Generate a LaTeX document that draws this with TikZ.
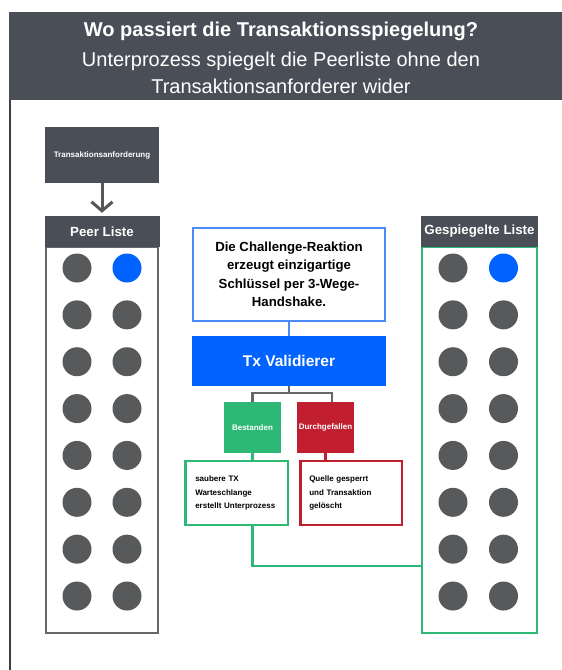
\documentclass[tikz,border=0pt]{standalone}
\usepackage{fontspec}
\setmainfont{Liberation Sans}
\usetikzlibrary{arrows.meta,positioning}
\definecolor{headgray}{HTML}{4A4E56}
\definecolor{dotgray}{HTML}{58595B}
\definecolor{linkgray}{HTML}{666666}
\definecolor{peerblue}{HTML}{0062FF}
\definecolor{edgeblue}{HTML}{4A8CF7}
\definecolor{passgreen}{HTML}{2DB875}
\definecolor{failred}{HTML}{C11F30}

\begin{document}
\begin{tikzpicture}[x=1pt,y=-1pt,
  small/.style={font=\bfseries\fontsize{8}{13.5}\selectfont},
  listhead/.style={fill=headgray,text=white,inner sep=0pt,minimum height=31pt,
    font=\bfseries\fontsize{13.3}{16}\selectfont},
  listbody/.style={draw,line width=2.5pt,fill=white,inner sep=0pt},
  dot/.style={circle,fill=dotgray,inner sep=0pt,minimum size=29pt},
  verdict/.style={small,text=white,inner sep=0pt,minimum width=57pt,minimum height=51pt},
  note/.style={small,draw,line width=2.5pt,fill=white,align=left,minimum height=64pt}]
  \useasboundingbox (0,0) rectangle (562,670);

  % Header band
  \fill[headgray] (9,12) rectangle (562,100);
  \draw[headgray!80!black,line width=2pt] (10,100) -- (10,670);
  \node[anchor=base,text=white,font=\bfseries\fontsize{20}{24}\selectfont] (title) at (281,36)
    {Wo passiert die Transaktionsspiegelung?};
  \node[anchor=base,text=white,font=\fontsize{20}{24}\selectfont] (subA) at (281,66)
    {Unterprozess spiegelt die Peerliste ohne den};
  \node[anchor=base,text=white,font=\fontsize{20}{24}\selectfont] (subB) at (281,93)
    {Transaktionsanforderer wider};

  % Requester and peer list
  \node[small,fill=headgray,text=white,inner sep=0pt,minimum width=114pt,minimum height=56pt]
    (request) at (102,155) {Transaktionsanforderung};
  \node[listbody,draw=linkgray,minimum width=112pt,minimum height=386pt] (peerbody) at (102,440) {};
  \node[listhead,minimum width=115pt] (peerhead) at (102,231.5) {Peer Liste};
  \draw[linkgray!85!black,line width=3pt,shorten >=3pt,-{Straight Barb[length=9pt,width=21pt]}]
    (request) -- (peerhead);

  % Mirrored list
  \node[listbody,draw=passgreen,minimum width=115pt,minimum height=386pt] (mirrorbody) at (479.5,440) {};
  \node[listhead,minimum width=117pt] (mirrorhead) at (479.5,231.5) {Gespiegelte Liste};

  % Peers, first row holds the requester
  \node[dot] (peer-0-a) at (77,268) {};
  \node[dot,fill=peerblue] (peer-0-b) at (127,268) {};
  \node[dot] (mirror-0-a) at (453,268) {};
  \node[dot,fill=peerblue] (mirror-0-b) at (503.5,268) {};
  \foreach \r in {1,...,7}{
    \node[dot] (peer-\r-a) at (77,268+46.86*\r) {};
    \node[dot] (peer-\r-b) at (127,268+46.86*\r) {};
    \node[dot] (mirror-\r-a) at (453,268+46.86*\r) {};
    \node[dot] (mirror-\r-b) at (503.5,268+46.86*\r) {};
  }

  % Validation chain
  \node[draw=edgeblue,line width=2.5pt,align=center,minimum width=192pt,minimum height=93pt,
    font=\bfseries\fontsize{13.2}{18.5}\selectfont] (challenge) at (289,274.5)
    {Die Challenge-Reaktion\\erzeugt einzigartige\\Schlüssel per 3-Wege-\\Handshake.};
  \node[fill=peerblue,text=white,inner sep=0pt,minimum width=194pt,minimum height=50pt,
    font=\bfseries\fontsize{15.5}{18}\selectfont] (validator) at (289,361) {Tx Validierer};
  \draw[edgeblue,line width=2pt] (challenge) -- (validator);

  \node[verdict,fill=passgreen] (pass) at (252.5,427.5) {Bestanden};
  \node[verdict,fill=failred] (fail) at (325.5,427.5) {Durchgefallen};
  \draw[linkgray,line width=2.5pt] (validator.south) -- ++(0,7) coordinate (split) -| (pass.north);
  \draw[linkgray,line width=2.5pt] (split) -| ([xshift=6.5pt]fail.north);

  \node[note,draw=passgreen,text width=82.5pt,inner xsep=10pt] (passnote) at (236.5,493)
    {saubere TX\\Warteschlange\\erstellt Unterprozess};
  \node[note,draw=failred,text width=83.5pt,inner xsep=9pt] (failnote) at (351,493)
    {Quelle gesperrt\\und Transaktion\\gelöscht};
  \draw[passgreen,line width=2.5pt] (pass) -- (pass |- passnote.north);
  \draw[failred,line width=2.5pt] (fail) -- (fail |- failnote.north);

  % Hand-off to the mirrored list
  \coordinate (mirrorjoin) at (mirrorbody.west |- 0,566);
  \draw[passgreen,line width=2.5pt] (pass |- passnote.south) |- (mirrorjoin);
\end{tikzpicture}
\end{document}
